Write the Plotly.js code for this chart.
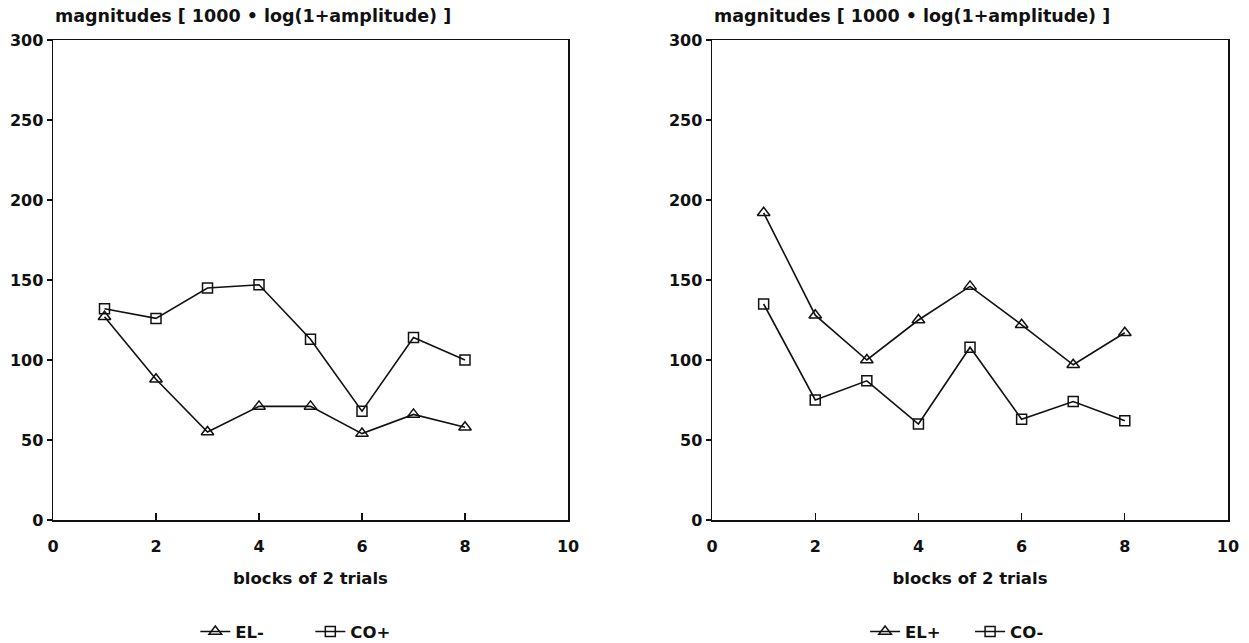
<!DOCTYPE html>
<html>
<head>
<meta charset="utf-8">
<script src="https://cdn.plot.ly/plotly-3.0.1.min.js"></script>
<style>html,body{margin:0;padding:0;background:#fff;}#chart{width:1249px;height:643px;}</style>
</head>
<body>
<div id="chart"></div>
<script>
// Data
const blocks = [1, 2, 3, 4, 5, 6, 7, 8];
const elMinus = [127, 88, 55, 71, 71, 54, 66, 58];
const coPlus = [132, 126, 145, 147, 113, 68, 114, 100];
const elPlus = [192, 128, 100, 125, 146, 122, 97, 117];
const coMinus = [135, 75, 87, 60, 108, 63, 74, 62];
const yTitle = 'magnitudes [ 1000 • log(1+amplitude) ]';
const xTitle = 'blocks of 2 trials';
const xTicks = [0, 2, 4, 6, 8, 10];
const yTicks = [0, 50, 100, 150, 200, 250, 300];

const FONT = 'DejaVu Sans, Verdana, sans-serif';
const lineStyle = {color: '#111', width: 1.6};

const traces = [
  {x: blocks, y: elMinus, name: 'EL-', xaxis: 'x', yaxis: 'y', legend: 'legend', mode: 'lines+markers',
   line: lineStyle, marker: {symbol: 'triangle-up-open', size: 11, color: '#111', line: {width: 1.5}}},
  {x: blocks, y: coPlus, name: 'CO+', xaxis: 'x', yaxis: 'y', legend: 'legend', mode: 'lines+markers',
   line: lineStyle, marker: {symbol: 'square-open', size: 10, color: '#111', line: {width: 1.5}}},
  {x: blocks, y: elPlus, name: 'EL+', xaxis: 'x2', yaxis: 'y2', legend: 'legend2', mode: 'lines+markers',
   line: lineStyle, marker: {symbol: 'triangle-up-open', size: 11, color: '#111', line: {width: 1.5}}},
  {x: blocks, y: coMinus, name: 'CO-', xaxis: 'x2', yaxis: 'y2', legend: 'legend2', mode: 'lines+markers',
   line: lineStyle, marker: {symbol: 'square-open', size: 10, color: '#111', line: {width: 1.5}}}
];

function xAxis(domain, anchor) {
  return {
    domain: domain, anchor: anchor, range: [0, 10], tickvals: xTicks, ticktext: xTicks.map(String),
    ticks: 'inside', ticklen: 7, tickwidth: 1.3, tickcolor: '#111',
    showline: true, linecolor: '#111', linewidth: 1.5, mirror: true,
    showgrid: false, zeroline: false, ticklabelstandoff: 11, automargin: false,
    tickfont: {family: FONT, size: 16, color: '#111', weight: 'bold'},
    title: {text: xTitle, standoff: 17, font: {family: FONT, size: 16.5, color: '#111', weight: 'bold'}},
    fixedrange: true
  };
}
function yAxis(anchor) {
  return {
    domain: [0, 1], anchor: anchor, range: [0, 300], tickvals: yTicks, ticktext: yTicks.map(String),
    ticks: 'outside', ticklen: 5, tickwidth: 1.3, tickcolor: '#111',
    showline: true, linecolor: '#111', linewidth: 1.5, mirror: true,
    showgrid: false, zeroline: false, automargin: false,
    tickfont: {family: FONT, size: 16, color: '#111', weight: 'bold'},
    fixedrange: true
  };
}

const leftDom = [0, 0.4383];
const rightDom = [0.5609, 1];

const legendFont = {family: FONT, size: 16.5, color: '#111', weight: 'bold'};

const layout = {
  width: 1249, height: 643,
  margin: {l: 53, r: 21, t: 40, b: 123, autoexpand: false},
  paper_bgcolor: '#fff', plot_bgcolor: '#fff',
  font: {family: FONT, color: '#111'},
  xaxis: xAxis(leftDom, 'y'),
  yaxis: yAxis('x'),
  xaxis2: xAxis(rightDom, 'y2'),
  yaxis2: yAxis('x2'),
  showlegend: true,
  legend: {orientation: 'h', x: 0.219, xanchor: 'center', y: -0.233, yanchor: 'middle',
    font: legendFont, itemwidth: 30, entrywidth: 70, bgcolor: 'rgba(0,0,0,0)'},
  legend2: {orientation: 'h', x: 0.7805, xanchor: 'center', y: -0.233, yanchor: 'middle',
    font: legendFont, itemwidth: 30, entrywidth: 60, bgcolor: 'rgba(0,0,0,0)'},
  annotations: [
    {text: yTitle, xref: 'paper', yref: 'paper', x: 0, y: 1.026, xanchor: 'left', yanchor: 'bottom', showarrow: false,
     font: {family: FONT, size: 17.5, color: '#111', weight: 'bold'}},
    {text: yTitle, xref: 'paper', yref: 'paper', x: rightDom[0], y: 1.026, xanchor: 'left', yanchor: 'bottom', showarrow: false,
     font: {family: FONT, size: 17.5, color: '#111', weight: 'bold'}}
  ]
};

Plotly.newPlot('chart', traces, layout, {displayModeBar: false, staticPlot: true});
</script>
</body>
</html>
